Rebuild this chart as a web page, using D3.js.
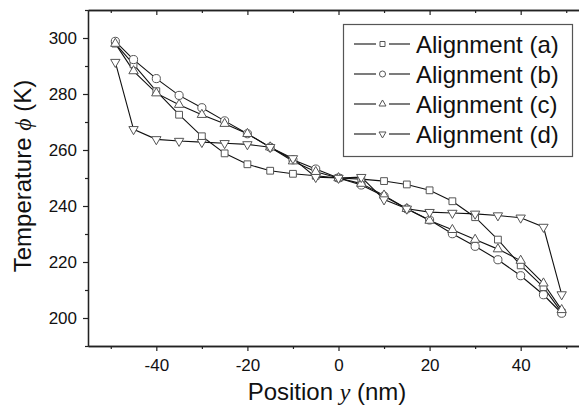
<!DOCTYPE html>
<html>
<head>
<meta charset="utf-8">
<script src="https://cdn.jsdelivr.net/npm/d3@7/dist/d3.min.js"></script>
<style>
body { margin: 0; background: #fff; }
text { font-family: Arial, "Liberation Sans", sans-serif; fill: #111; }
</style>
</head>
<body>
<div id="chart"></div>
<script>
// position along y (nm), same for every alignment
var positions = [-49, -45, -40, -35, -30, -25, -20, -15, -10, -5, 0, 5, 10, 15, 20, 25, 30, 35, 40, 45, 49];
var alignA = [298, 290.6, 281, 272.6, 264.9, 258.8, 254.9, 252.6, 251.5, 250.8, 250, 249.6, 248.9, 247.7, 245.6, 241.7, 236, 228, 218.8, 211, 202];
var alignB = [298.8, 292.3, 285.5, 279.5, 275.1, 270.4, 265.8, 261, 256.5, 253.2, 250, 247.5, 243.5, 239, 235, 230.1, 225.6, 220.8, 215.1, 208.3, 201.7];
var alignC = [298, 288.2, 280.3, 276.2, 272.6, 269.4, 265.8, 261, 256, 252.2, 250, 248, 243.8, 239, 234.8, 231.5, 228, 224.6, 220.5, 212.4, 202.9];
var alignD = [291.4, 267.4, 263.8, 263.2, 262.8, 262.4, 262, 261, 257, 250.3, 250, 250.3, 242.3, 239, 237.8, 237.5, 237.2, 236.6, 235.8, 232.5, 208.4];
var seriesNames = ['Alignment (a)', 'Alignment (b)', 'Alignment (c)', 'Alignment (d)'];
var xTicks = [-40, -20, 0, 20, 40];
var xMinor = [-50, -30, -10, 10, 30, 50];
var yTicks = [200, 220, 240, 260, 280, 300];
var yMinor = [190, 210, 230, 250, 270, 290, 310];

var svgWidth = 579;
var svgHeight = 407;
var margin = {top: 10, left: 88, bottom: 346};

var svg = d3.select('#chart').append('svg')
.attr('width', svgWidth)
.attr('height', svgHeight);

var xScale = d3.scaleLinear().domain([-55, 55]).range([margin.left, 589]);
var yScale = d3.scaleLinear().domain([190, 310]).range([margin.bottom, margin.top]);

function styleAxis(g) {
	g.select('.domain').attr('stroke', '#222').attr('stroke-width', 1.3);
	g.selectAll('.tick line').attr('stroke', '#222').attr('stroke-width', 1.2);
	g.selectAll('.tick text').attr('font-size', '17px').attr('font-family', 'Arial, "Liberation Sans", sans-serif').attr('fill', '#111');
}

// plain hyphen minus like the original
var plainNum = function(d) {return String(d);};

// bottom axis
svg.append('g')
.attr('transform', `translate(0, ${margin.bottom})`)
.call(d3.axisBottom(xScale).tickValues(xMinor).tickSize(3).tickSizeOuter(0).tickFormat(''))
.call(styleAxis);
svg.append('g')
.attr('transform', `translate(0, ${margin.bottom})`)
.call(d3.axisBottom(xScale).tickValues(xTicks).tickSize(5).tickSizeOuter(0).tickPadding(8).tickFormat(plainNum))
.call(styleAxis);

// top axis, ticks inward
svg.append('g')
.attr('transform', `translate(0, ${margin.top})`)
.call(d3.axisBottom(xScale).tickValues(xMinor).tickSize(3).tickSizeOuter(0).tickFormat(''))
.call(styleAxis);
svg.append('g')
.attr('transform', `translate(0, ${margin.top})`)
.call(d3.axisBottom(xScale).tickValues(xTicks).tickSize(5).tickSizeOuter(0).tickFormat(''))
.call(styleAxis);

// left axis
svg.append('g')
.attr('transform', `translate(${margin.left}, 0)`)
.call(d3.axisLeft(yScale).tickValues(yMinor).tickSize(3).tickSizeOuter(0).tickFormat(''))
.call(styleAxis);
svg.append('g')
.attr('transform', `translate(${margin.left}, 0)`)
.call(d3.axisLeft(yScale).tickValues(yTicks).tickSize(5).tickSizeOuter(0).tickPadding(6).tickFormat(plainNum))
.call(styleAxis);

// axis titles
var xTitle = svg.append('text')
.attr('x', 327)
.attr('y', 400)
.attr('text-anchor', 'middle')
.attr('font-size', '24px');
xTitle.append('tspan').text('Position ');
xTitle.append('tspan').attr('font-family', '"Liberation Serif", "Times New Roman", serif').attr('font-style', 'italic').text('y');
xTitle.append('tspan').text(' (nm)');

var yTitle = svg.append('text')
.attr('transform', 'rotate(-90)')
.attr('x', -176)
.attr('y', 31)
.attr('text-anchor', 'middle')
.attr('font-size', '24px');
yTitle.append('tspan').text('Temperature ');
yTitle.append('tspan').attr('font-family', '"Liberation Serif", "DejaVu Serif", serif').attr('font-style', 'italic').text('\u03D5');
yTitle.append('tspan').text(' (K)');

// series
var allSeries = [alignA, alignB, alignC, alignD];
var shapes = [d3.symbolSquare, d3.symbolCircle, d3.symbolTriangle, d3.symbolTriangle];
var sizes = [46, 52, 38, 38];
var rotations = [0, 0, 0, 180];

var line = d3.line()
.x(function(d, i) {return xScale(positions[i]);})
.y(function(d) {return yScale(d);});

svg.append('g')
.selectAll('path')
.data(allSeries)
.enter()
.append('path')
.attr('d', line)
.attr('fill', 'none')
.attr('stroke', '#111')
.attr('stroke-width', 1.1);

allSeries.forEach(function(values, s) {
	svg.append('g')
	.selectAll('path')
	.data(values)
	.enter()
	.append('path')
	.attr('d', d3.symbol().type(shapes[s]).size(sizes[s]))
	.attr('transform', function(d, i) {
		return 'translate(' + xScale(positions[i]) + ',' + yScale(d) + ') rotate(' + rotations[s] + ')';
	})
	.attr('fill', '#fff')
	.attr('stroke', '#555')
	.attr('stroke-width', 1);
});

// legend
var legend = svg.append('g');
legend.append('rect')
.attr('x', 343.5)
.attr('y', 24.5)
.attr('width', 229)
.attr('height', 132)
.attr('fill', '#fff')
.attr('stroke', '#555')
.attr('stroke-width', 1.2);

var rows = legend.selectAll('g.row')
.data(seriesNames)
.enter()
.append('g')
.attr('class', 'row')
.attr('transform', function(d, i) {return 'translate(0,' + (44 + i * 30) + ')';});
rows.append('line').attr('x1', 354).attr('x2', 376).attr('stroke', '#111').attr('stroke-width', 1.1);
rows.append('line').attr('x1', 389).attr('x2', 410).attr('stroke', '#111').attr('stroke-width', 1.1);
rows.append('path')
.attr('d', function(d, i) {return d3.symbol().type(shapes[i]).size(sizes[i] * 0.55)();})
.attr('transform', function(d, i) {return 'translate(382.5,0) rotate(' + rotations[i] + ')';})
.attr('fill', '#fff')
.attr('stroke', '#555')
.attr('stroke-width', 1);
rows.append('text')
.attr('x', 416)
.attr('y', 8.5)
.attr('font-size', '24px')
.text(function(d) {return d;});
</script>
</body>
</html>
